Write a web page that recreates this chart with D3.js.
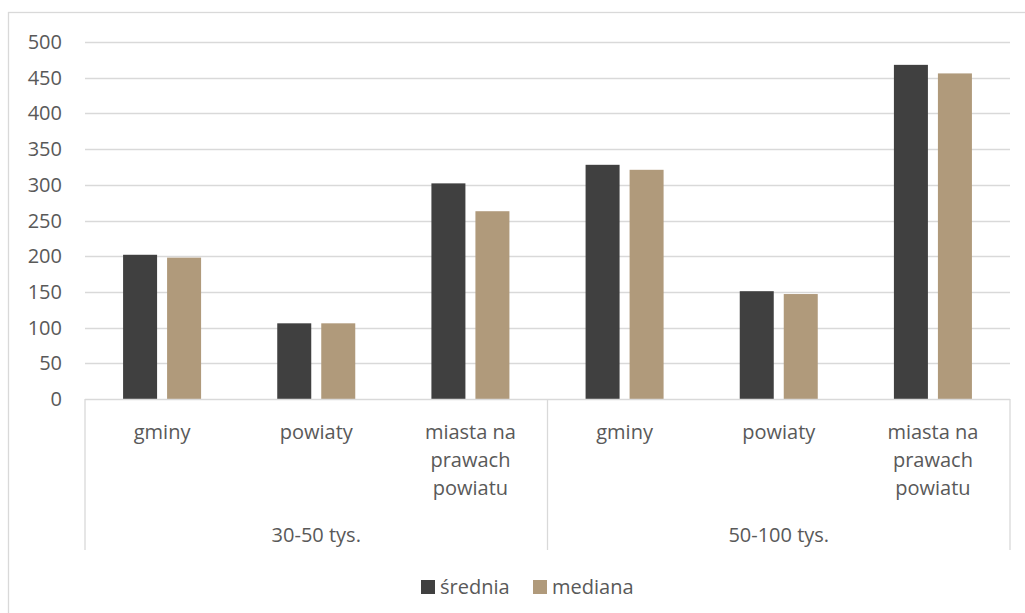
<!DOCTYPE html>
<html>
<head>
<meta charset="utf-8">
<script src="https://cdn.jsdelivr.net/npm/d3@7"></script>
<style>
  html, body { margin: 0; padding: 0; background: #fff; }
  svg { display: block; }
  text { font-family: "Open Sans", "Noto Sans", sans-serif; fill: #595959; }
</style>
</head>
<body>
<svg id="chart" width="1025" height="613"></svg>
<script>
// ---- data ----
const groups = ["30-50 tys.", "50-100 tys."];
const subcategories = ["gminy", "powiaty", "miasta na prawach powiatu"];
const subLabelLines = [["gminy"], ["powiaty"], ["miasta na", "prawach", "powiatu"]];
const seriesNames = ["średnia", "mediana"];
const sredniaValues = [202, 106, 302, 328, 151, 468];
const medianaValues = [198, 106, 263, 321, 147, 456];
const yTicks = [0, 50, 100, 150, 200, 250, 300, 350, 400, 450, 500];
const seriesColors = ["#404040", "#B09A7B"];

// ---- build ----
const categories = [];
groups.forEach((g, gi) => subcategories.forEach((s, si) => categories.push({ key: gi + "|" + si, group: g, gi, si })));
const rows = categories.map((c, i) => ({ ...c, values: [sredniaValues[i], medianaValues[i]] }));

const svg = d3.select("#chart");
const plotLeft = 85, plotRight = 1010, plotTop = 42, plotBottom = 399;

// outer chart border
svg.append("rect").attr("x", 8.5).attr("y", 12.5).attr("width", 1030).attr("height", 700)
  .attr("fill", "none").attr("stroke", "#d9d9d9").attr("stroke-width", 1.3);

const y = d3.scaleLinear().domain([0, 500]).range([plotBottom, plotTop]);
const x0 = d3.scaleBand().domain(categories.map(c => c.key)).range([plotLeft, plotRight]).padding(0);
const groupW = x0.bandwidth() * 0.506;
const x1 = d3.scaleBand().domain(seriesNames).range([0, groupW]).paddingInner(0.2273).paddingOuter(0);

// gridlines
svg.append("g").selectAll("line").data(yTicks.filter(t => t > 0)).join("line")
  .attr("x1", plotLeft).attr("x2", plotRight)
  .attr("y1", d => Math.round(y(d)) + 0.5).attr("y2", d => Math.round(y(d)) + 0.5)
  .attr("stroke", "#d9d9d9").attr("stroke-width", 1.3);

// y tick labels
svg.append("g").selectAll("text").data(yTicks).join("text")
  .attr("x", 62).attr("y", d => y(d)).attr("dy", "0.35em")
  .attr("text-anchor", "end").attr("font-size", 20).text(d => d);

// bars
const bar = svg.append("g").selectAll("g").data(rows).join("g")
  .attr("transform", d => `translate(${x0(d.key) + (x0.bandwidth() - groupW) / 2},0)`);
bar.selectAll("rect").data(d => d.values.map((v, i) => ({ v, s: seriesNames[i], i }))).join("rect")
  .attr("x", d => x1(d.s)).attr("width", x1.bandwidth())
  .attr("y", d => y(d.v)).attr("height", d => y(0) - y(d.v))
  .attr("fill", d => seriesColors[d.i]);

// category axis
const axisG = svg.append("g").attr("stroke", "#d9d9d9").attr("stroke-width", 1.3);
axisG.append("line").attr("x1", plotLeft).attr("x2", plotRight).attr("y1", plotBottom + 0.5).attr("y2", plotBottom + 0.5);
const groupEdges = [plotLeft];
groups.forEach((g, gi) => groupEdges.push(x0(gi + "|" + (subcategories.length - 1)) + x0.bandwidth()));
axisG.selectAll("line.sep").data(groupEdges).join("line").attr("class", "sep")
  .attr("x1", d => d).attr("x2", d => d).attr("y1", plotBottom).attr("y2", 550);

// sub-category labels
const subG = svg.append("g").selectAll("text").data(rows).join("text")
  .attr("text-anchor", "middle").attr("font-size", 20)
  .attr("transform", d => `translate(${x0(d.key) + x0.bandwidth() / 2},0)`);
subG.selectAll("tspan").data(d => subLabelLines[d.si]).join("tspan")
  .attr("x", 0).attr("y", (d, i) => 432 + i * 28).attr("dy", "0.35em").text(d => d);

// group labels
svg.append("g").selectAll("text").data(groups).join("text")
  .attr("text-anchor", "middle").attr("font-size", 20)
  .attr("x", (g, gi) => (x0(gi + "|0") + x0(gi + "|" + (subcategories.length - 1)) + x0.bandwidth()) / 2)
  .attr("y", 535).attr("dy", "0.35em").text(d => d);

// legend
const legend = svg.append("g");
const legendX = [421, 533];
seriesNames.forEach((s, i) => {
  legend.append("rect").attr("x", legendX[i]).attr("y", 580).attr("width", 14).attr("height", 14).attr("fill", seriesColors[i]);
  legend.append("text").attr("x", legendX[i] + 19).attr("y", 587).attr("dy", "0.35em").attr("font-size", 20).text(s);
});
</script>
</body>
</html>
